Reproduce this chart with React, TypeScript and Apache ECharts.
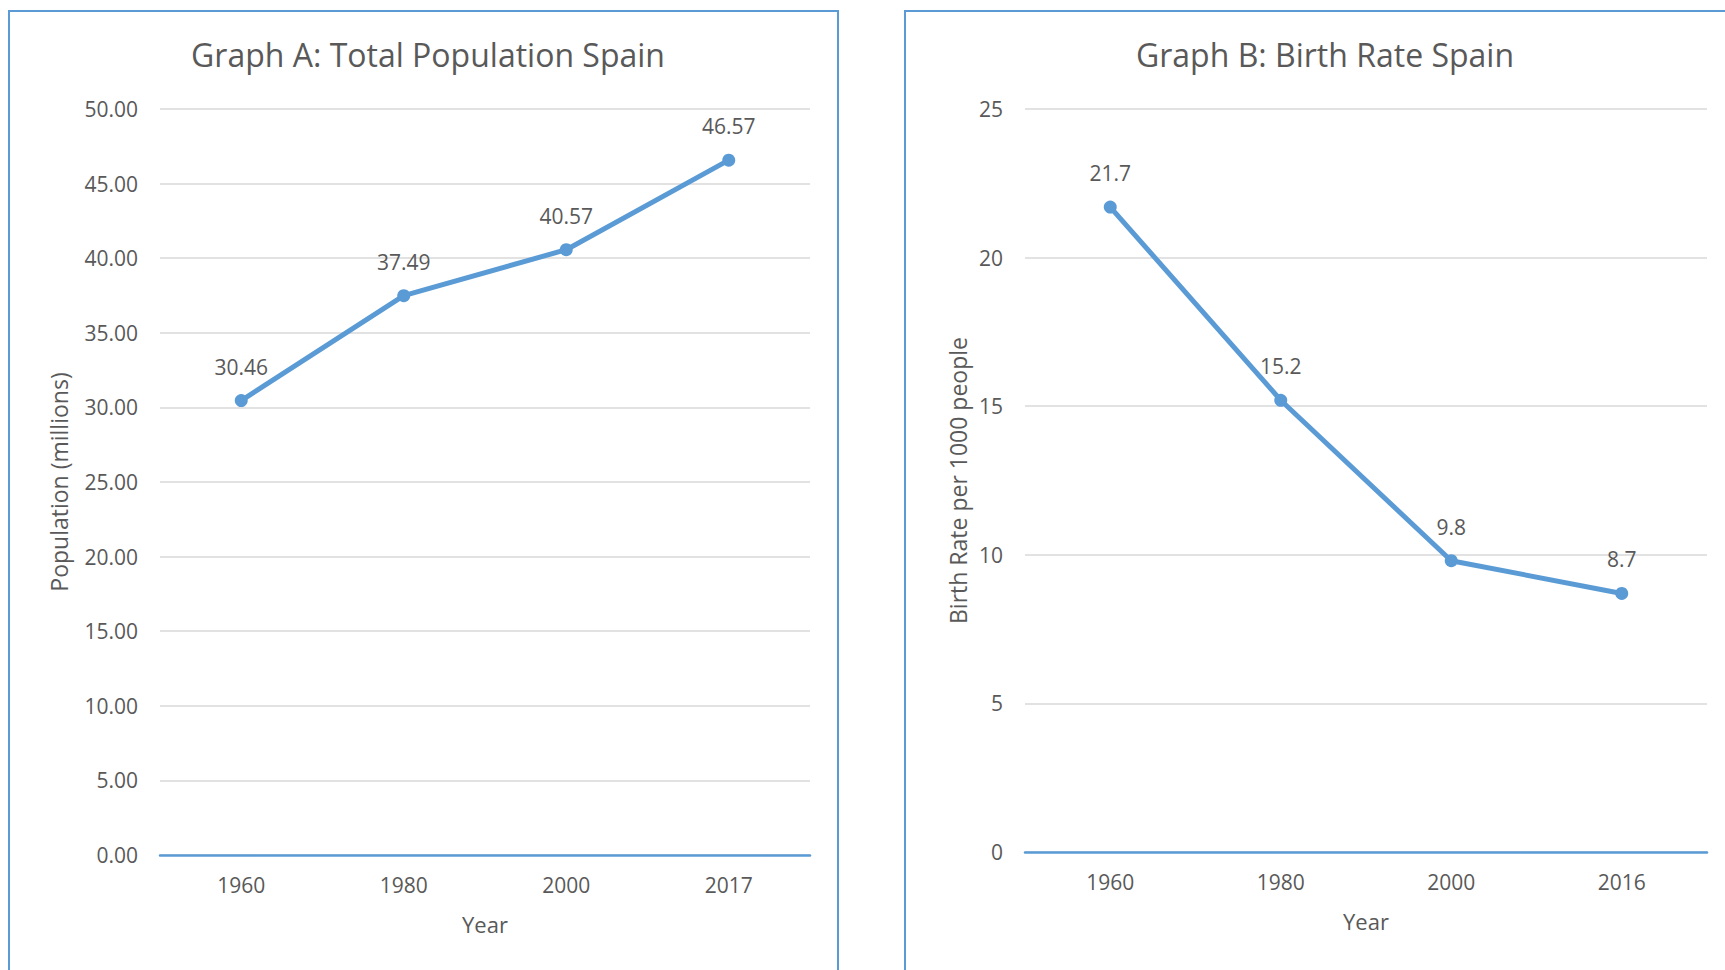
import React, { useEffect, useRef } from "react";
import * as echarts from "echarts";

const yearsA = ["1960", "1980", "2000", "2017"];
const populationA = [30.46, 37.49, 40.57, 46.57];
const yearsB = ["1960", "1980", "2000", "2016"];
const birthRateB = [21.7, 15.2, 9.8, 8.7];

const BLUE = "#5B9BD5";
const TEXT = "#595959";
const FONT = "'Open Sans', 'Noto Sans', sans-serif";

export default function App() {
  const ref = useRef<HTMLDivElement>(null);
  useEffect(() => {
    if (!ref.current) return;
    const chart = echarts.init(ref.current, null, { renderer: "svg" });
    const axisLabel = { color: TEXT, fontSize: 21, fontFamily: FONT };
    const nameStyle = { color: TEXT, fontSize: 22, fontFamily: FONT };
    const xAxisCommon = {
      type: "category" as const,
      boundaryGap: true,
      axisLine: { show: true, lineStyle: { color: BLUE, width: 2.5 } },
      axisTick: { show: false },
      axisLabel: { ...axisLabel, margin: 19 },
      name: "Year",
      nameLocation: "middle" as const,
      nameGap: 58,
      nameTextStyle: nameStyle,
    };
    const yAxisCommon = {
      type: "value" as const,
      min: 0,
      interval: 5,
      axisLine: { show: false },
      axisTick: { show: false },
      splitLine: { lineStyle: { color: "#D9D9D9", width: 1.5 } },
      nameLocation: "middle" as const,
      nameTextStyle: { ...nameStyle, fontSize: 23 },
    };
    const seriesCommon = {
      type: "line" as const,
      symbol: "circle",
      symbolSize: 13,
      lineStyle: { color: BLUE, width: 5 },
      itemStyle: { color: BLUE },
      label: {
        show: true,
        position: "top" as const,
        distance: 17,
        color: TEXT,
        fontSize: 21,
        fontFamily: FONT,
      },
    };
    chart.setOption({
      animation: false,
      backgroundColor: "#ffffff",
      title: [
        {
          text: "Graph A: Total Population Spain",
          left: 423,
          top: 33,
          textAlign: "center",
          textStyle: { color: TEXT, fontSize: 32, fontWeight: "normal", fontFamily: FONT },
        },
        {
          text: "Graph B: Birth Rate Spain",
          left: 1320,
          top: 33,
          textAlign: "center",
          textStyle: { color: TEXT, fontSize: 32, fontWeight: "normal", fontFamily: FONT },
        },
      ],
      graphic: [
        {
          type: "rect",
          shape: { x: 9, y: 11, width: 829, height: 1000 },
          style: { fill: "none", stroke: BLUE, lineWidth: 2 },
          z: -1,
        },
        {
          type: "rect",
          shape: { x: 905, y: 11, width: 900, height: 1000 },
          style: { fill: "none", stroke: BLUE, lineWidth: 2 },
          z: -1,
        },
      ],
      grid: [
        { left: 160, top: 109, width: 650, height: 746 },
        { left: 1025, top: 109, width: 682, height: 743 },
      ],
      xAxis: [
        { ...xAxisCommon, gridIndex: 0, data: yearsA },
        { ...xAxisCommon, gridIndex: 1, data: yearsB },
      ],
      yAxis: [
        {
          ...yAxisCommon,
          gridIndex: 0,
          max: 50,
          name: "Population (millions)",
          nameGap: 90,
          axisLabel: { ...axisLabel, margin: 22, formatter: (v: number) => v.toFixed(2) },
        },
        {
          ...yAxisCommon,
          gridIndex: 1,
          max: 25,
          name: "Birth Rate per 1000 people",
          nameGap: 56,
          axisLabel: { ...axisLabel, margin: 22 },
        },
      ],
      series: [
        {
          ...seriesCommon,
          xAxisIndex: 0,
          yAxisIndex: 0,
          data: populationA,
          label: { ...seriesCommon.label, formatter: (p: any) => Number(p.value).toFixed(2) },
        },
        { ...seriesCommon, xAxisIndex: 1, yAxisIndex: 1, data: birthRateB },
      ],
    });
    return () => chart.dispose();
  }, []);
  return (
    <div
      ref={ref}
      style={{ position: "fixed", left: 0, top: 0, width: 1725, height: 970, background: "#fff" }}
    />
  );
}
